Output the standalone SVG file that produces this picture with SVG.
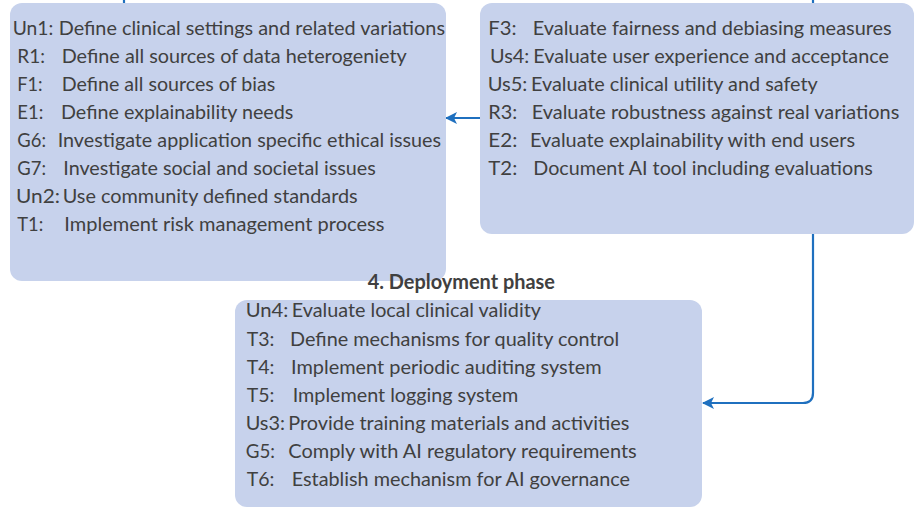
<svg xmlns="http://www.w3.org/2000/svg" width="915" height="509" viewBox="0 0 915 509">
<style>
.box{fill:#C7D2EC;}
text{font-family:Lato,"Liberation Sans",sans-serif;font-size:20px;fill:#404040;}
.title{font-weight:bold;}
.conn{fill:none;stroke:#1F70BF;stroke-width:2.2;}
</style>
<defs>
<marker id="arr" markerUnits="userSpaceOnUse" markerWidth="12" markerHeight="12" viewBox="0 0 12 12" refX="11" refY="6" orient="auto">
<path d="M0,0 L12,6 L0,12 L3,6 Z" fill="#1F70BF"/>
</marker>
</defs>
<rect width="915" height="509" fill="#FFFFFF"/>
<g id="connectors">
<line class="conn" x1="124" y1="0" x2="124" y2="4"/>
<line class="conn" x1="813" y1="0" x2="813" y2="4"/>
<path class="conn" d="M480,118 H446" marker-end="url(#arr)"/>
<path class="conn" d="M813,233 V393 Q813,403 803,403 H703" marker-end="url(#arr)"/>
</g>
<g id="node-left">
<rect class="box" x="10" y="3" width="436" height="278" rx="12"/>
<text x="12.7" y="35" textLength="40.6" lengthAdjust="spacingAndGlyphs">Un1:</text>
<text x="58.7" y="35" textLength="386.3" lengthAdjust="spacingAndGlyphs">Define clinical settings and related variations</text>
<text x="17.3" y="63" textLength="27.7" lengthAdjust="spacingAndGlyphs">R1:</text>
<text x="61.7" y="63" textLength="345" lengthAdjust="spacingAndGlyphs">Define all sources of data heterogeniety</text>
<text x="17.3" y="91" textLength="25.3" lengthAdjust="spacingAndGlyphs">F1:</text>
<text x="61.7" y="91" textLength="213.6" lengthAdjust="spacingAndGlyphs">Define all sources of bias</text>
<text x="17.3" y="119" textLength="26" lengthAdjust="spacingAndGlyphs">E1:</text>
<text x="61" y="119" textLength="232.3" lengthAdjust="spacingAndGlyphs">Define explainability needs</text>
<text x="17.3" y="147" textLength="28.7" lengthAdjust="spacingAndGlyphs">G6:</text>
<text x="57.7" y="147" textLength="383.3" lengthAdjust="spacingAndGlyphs">Investigate application specific ethical issues</text>
<text x="17.3" y="175" textLength="28.7" lengthAdjust="spacingAndGlyphs">G7:</text>
<text x="63.3" y="175" textLength="312.4" lengthAdjust="spacingAndGlyphs">Investigate social and societal issues</text>
<text x="16" y="203" textLength="44" lengthAdjust="spacingAndGlyphs">Un2:</text>
<text x="62.7" y="203" textLength="295" lengthAdjust="spacingAndGlyphs">Use community defined standards</text>
<text x="17.3" y="231" textLength="26" lengthAdjust="spacingAndGlyphs">T1:</text>
<text x="64.3" y="231" textLength="320" lengthAdjust="spacingAndGlyphs">Implement risk management process</text>
</g>
<g id="node-right">
<rect class="box" x="480" y="3" width="434" height="231" rx="12"/>
<text x="488.3" y="35" textLength="28.3" lengthAdjust="spacingAndGlyphs">F3:</text>
<text x="532.7" y="35" textLength="359" lengthAdjust="spacingAndGlyphs">Evaluate fairness and debiasing measures</text>
<text x="490" y="63" textLength="39.3" lengthAdjust="spacingAndGlyphs">Us4:</text>
<text x="533.3" y="63" textLength="355.7" lengthAdjust="spacingAndGlyphs">Evaluate user experience and acceptance</text>
<text x="487.7" y="91" textLength="39.7" lengthAdjust="spacingAndGlyphs">Us5:</text>
<text x="531" y="91" textLength="286.7" lengthAdjust="spacingAndGlyphs">Evaluate clinical utility and safety</text>
<text x="488.3" y="119" textLength="29" lengthAdjust="spacingAndGlyphs">R3:</text>
<text x="531.7" y="119" textLength="367.6" lengthAdjust="spacingAndGlyphs">Evaluate robustness against real variations</text>
<text x="488.3" y="147" textLength="29" lengthAdjust="spacingAndGlyphs">E2:</text>
<text x="530" y="147" textLength="325" lengthAdjust="spacingAndGlyphs">Evaluate explainability with end users</text>
<text x="488.3" y="175" textLength="29" lengthAdjust="spacingAndGlyphs">T2:</text>
<text x="533.3" y="175" textLength="339.4" lengthAdjust="spacingAndGlyphs">Document AI tool including evaluations</text>
</g>
<g id="node-deployment">
<text class="title" x="367.7" y="289" textLength="187.3" lengthAdjust="spacingAndGlyphs">4. Deployment phase</text>
<rect class="box" x="235" y="300" width="467" height="207" rx="12"/>
<text x="245.7" y="317.3" textLength="42.7" lengthAdjust="spacingAndGlyphs">Un4:</text>
<text x="291.7" y="317.3" textLength="249.3" lengthAdjust="spacingAndGlyphs">Evaluate local clinical validity</text>
<text x="246.7" y="346" textLength="27.7" lengthAdjust="spacingAndGlyphs">T3:</text>
<text x="290" y="346" textLength="329.3" lengthAdjust="spacingAndGlyphs">Define mechanisms for quality control</text>
<text x="246.7" y="374" textLength="27.7" lengthAdjust="spacingAndGlyphs">T4:</text>
<text x="291" y="374" textLength="310.7" lengthAdjust="spacingAndGlyphs">Implement periodic auditing system</text>
<text x="246.7" y="401.7" textLength="27.7" lengthAdjust="spacingAndGlyphs">T5:</text>
<text x="292.7" y="401.7" textLength="225.6" lengthAdjust="spacingAndGlyphs">Implement logging system</text>
<text x="245.7" y="430" textLength="39.3" lengthAdjust="spacingAndGlyphs">Us3:</text>
<text x="288.3" y="430" textLength="341" lengthAdjust="spacingAndGlyphs">Provide training materials and activities</text>
<text x="245.7" y="457.7" textLength="29.3" lengthAdjust="spacingAndGlyphs">G5:</text>
<text x="288.3" y="457.7" textLength="348.4" lengthAdjust="spacingAndGlyphs">Comply with AI regulatory requirements</text>
<text x="246.7" y="485.7" textLength="27.7" lengthAdjust="spacingAndGlyphs">T6:</text>
<text x="291.7" y="485.7" textLength="338.3" lengthAdjust="spacingAndGlyphs">Establish mechanism for AI governance</text>
</g>
</svg>
